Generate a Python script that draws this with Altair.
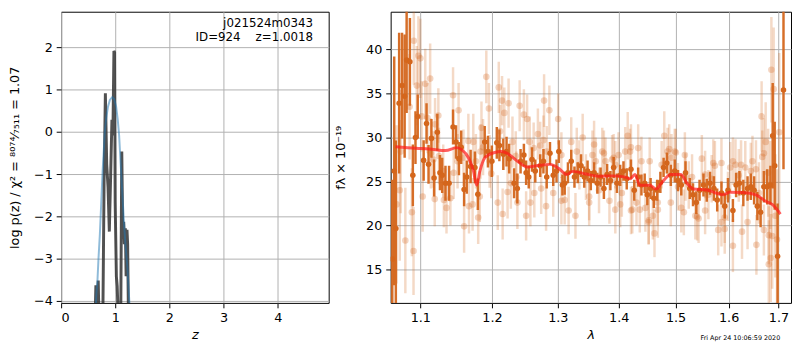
import altair as alt
import pandas as pd

# ---------------- left panel: p(z) ----------------
pz_z = [0.624, 0.642, 0.660, 0.685, 0.700, 0.770, 0.793, 0.817, 0.842, 0.866, 0.890, 0.914,
        0.938, 0.956, 0.975, 0.987, 0.998, 1.020, 1.035, 1.060, 1.100, 1.120, 1.138, 1.156,
        1.168, 1.186, 1.200, 1.216, 1.228, 1.245]
pz_logp = [-4.6, -3.63, -4.3, -3.52, -4.5, -4.5, -1.22, 0.92, -0.77, -1.30, -2.36, -1.06,
           0.29, -0.08, 1.92, 1.89, -1.67, -3.42, -3.65, -4.6, -4.6, -0.46, -2.43, -2.13,
           -2.66, -2.28, -3.42, -2.32, -2.65, -4.6]

fit_z = [0.630, 0.648, 0.672, 0.690, 0.715, 0.740, 0.765, 0.785, 0.806, 0.835, 0.866, 0.900,
         0.944, 0.980, 1.016, 1.045, 1.071, 1.100, 1.130, 1.162, 1.190, 1.223, 1.253, 1.280]
fit_logp = [-4.6, -3.9, -3.49, -3.0, -2.43, -1.7, -0.95, -0.5, 0.0, 0.35, 0.60, 0.76,
            0.825, 0.78, 0.60, 0.30, -0.08, -0.77, -1.45, -2.17, -2.70, -3.20, -3.87, -4.5]

label_field = "j021524m0343"
label_id = "ID=924\u00a0\u00a0\u00a0\u00a0z=1.0018"
date_text = "Fri Apr 24 10:06:59 2020"

# ---------------- right panel: spectrum ----------------
dark_lam = [1.0631, 1.0656, 1.0677, 1.0720, 1.0758, 1.0792, 1.0818, 1.0861, 1.0900, 1.0935, 1.0965,
            1.1044, 1.1083, 1.1110, 1.1149, 1.1185, 1.1229, 1.1265, 1.1296, 1.1341, 1.1391,
            1.1446, 1.1487, 1.1528, 1.1560, 1.1601, 1.1638, 1.1693, 1.1754, 1.1796, 1.1895,
            1.1942, 1.1999, 1.2071, 1.2109, 1.2167, 1.2215, 1.2254, 1.2327, 1.2376,
            1.2425, 1.2475, 1.2509, 1.2549, 1.2599, 1.2649, 1.2725, 1.2775, 1.2826, 1.2877,
            1.2928, 1.2980, 1.3016, 1.3073, 1.3109, 1.3161, 1.3214, 1.3266, 1.3319, 1.3372,
            1.3425, 1.3479, 1.3532, 1.3586, 1.3640, 1.3694, 1.3749, 1.3803, 1.3858, 1.3913,
            1.3969, 1.4024, 1.4080, 1.4136, 1.4209, 1.4266, 1.4334, 1.4391, 1.4448, 1.4494,
            1.4552, 1.4609, 1.4668, 1.4726, 1.4784, 1.4843, 1.4914, 1.4985, 1.5045, 1.5105,
            1.5183, 1.5262, 1.5322, 1.5383, 1.5444, 1.5518, 1.5580, 1.5642, 1.5716, 1.5779,
            1.5861, 1.5924, 1.5987, 1.6083, 1.6146, 1.6211, 1.6288, 1.6372, 1.6437, 1.6503,
            1.6568, 1.6634, 1.6700, 1.6767, 1.6833,
            1.6880, 1.6921, 1.6981, 1.7103]
dark_flux = [16.2, 26.2, 19.65, 33.9, 35.9, 34.7, 38.8, 38.6, 25.7, 30.0, 32.4,
             27.4, 31.6, 26.95, 29.9, 25.4, 30.6, 26.0, 25.7, 24.8, 24.8,
             31.2, 29.5, 27.6, 28.9, 24.1, 25.5, 26.7, 26.6, 23.55, 29.5,
             28.4, 27.3, 29.4, 29.1, 28.1, 28.4, 27.6, 24.8, 24.2,
             27.3, 28.0, 26.0, 25.5, 27.5, 26.2, 26.8, 27.3, 25.5, 28.2,
             25.7, 26.2, 28.4, 24.6, 24.8, 26.0, 27.3, 25.5, 26.0, 26.8,
             25.5, 26.2, 25.1, 26.0, 24.8, 25.5, 24.2, 25.8, 25.1, 26.6,
             24.8, 25.7, 26.2, 25.3, 26.4, 24.0, 25.5, 24.6, 24.8, 23.5,
             24.2, 23.1, 24.0, 24.9, 26.6, 27.1, 25.7, 26.2, 25.1, 24.6,
             26.0, 24.2, 23.5, 22.6, 24.0, 24.6, 24.0, 24.8, 24.2, 22.9,
             23.7, 22.2, 24.0, 21.7, 24.6, 24.8, 23.7, 24.2, 24.4, 24.0,
             22.2, 21.5, 24.4, 24.4, 24.6,
             30.2, 26.8, 16.5, 35.4]
dark_err = [9, 13, 10, 8, 6, 7, 6, 5, 3.5, 3, 2.5,
            2.3, 2.3, 2.2, 2.2, 2.1, 2.1, 2.0, 2.0, 2.0, 2.0, 2.0, 1.9, 1.9, 1.9, 1.9, 1.9, 1.9,
            1.8, 1.8, 1.8, 1.8, 1.8, 1.8, 1.8, 1.8, 1.7, 1.7, 1.7, 1.7,
            1.4, 1.3, 1.4, 1.3, 1.4, 1.3, 1.3, 1.4, 1.3, 1.3,
            1.2, 1.3, 1.3, 1.2, 1.3, 1.2, 1.3, 1.2, 1.2, 1.3,
            1.2, 1.2, 1.1, 1.2, 1.2, 1.1, 1.2, 1.2, 1.1, 1.2,
            1.1, 1.2, 1.1, 1.2, 1.1, 1.2, 1.1, 1.2, 1.1, 1.2,
            1.2, 1.1, 1.2, 1.2, 1.1, 1.2, 1.2, 1.3, 1.2, 1.2,
            1.3, 1.2, 1.3, 1.3, 1.2, 1.3, 1.3, 1.3, 1.4, 1.3,
            1.3, 1.4, 1.4, 1.3, 1.4, 1.4, 1.5, 1.4, 1.5, 1.6,
            1.6, 1.7, 1.8, 2.0, 2.2,
            6, 5, 6, 9]

light_lam = [1.0686, 1.0728, 1.0741, 1.0801, 1.0857, 1.0887, 1.0909, 1.0913, 1.0952, 1.0974,
             1.1000, 1.1017, 1.1031, 1.1066, 1.1096, 1.1132, 1.1141, 1.1176, 1.1194, 1.1198,
             1.1243, 1.1252, 1.1310, 1.1319, 1.1355, 1.1409, 1.1446, 1.1455, 1.1509, 1.1523,
             1.1592, 1.1601, 1.1661, 1.1670, 1.1721, 1.1731, 1.1768, 1.1801, 1.1824, 1.1834,
             1.1848, 1.1871, 1.1918, 1.1956, 1.1966, 1.1990, 1.2085, 1.2100, 1.2119, 1.2148,
             1.2157, 1.2182, 1.2230, 1.2245, 1.2279, 1.2303, 1.2352, 1.2362, 1.2377, 1.2411,
             1.2475, 1.2524, 1.2564, 1.2574, 1.2624, 1.2634, 1.2689, 1.2725, 1.2740, 1.2785,
             1.2816, 1.2826, 1.2867, 1.2928, 1.3006, 1.3057, 1.3109, 1.3172, 1.3214, 1.3282,
             1.3303, 1.3345, 1.3399, 1.3452, 1.3505, 1.3559, 1.3613, 1.3668, 1.3722, 1.3776,
             1.3842, 1.3887, 1.3941, 1.3996, 1.4052, 1.4110, 1.4153, 1.4194, 1.4232, 1.4305,
             1.4334, 1.4391, 1.4460, 1.4517, 1.4592, 1.4621, 1.4679, 1.4749, 1.4796, 1.4855,
             1.4926, 1.4985, 1.5045, 1.5105, 1.5183, 1.5243, 1.5304, 1.5365, 1.5426, 1.5487,
             1.5549, 1.5611, 1.5673, 1.5735, 1.5798, 1.5861, 1.5924, 1.5987, 1.6031, 1.6083,
             1.6134, 1.6198, 1.6262, 1.6327, 1.6372, 1.6437, 1.6540, 1.6549, 1.6601, 1.6654,
             1.6700, 1.6737, 1.6787, 1.6800, 1.6833, 1.6840, 1.6853, 1.6870, 1.6900, 1.6934,
             1.6968, 1.7015,
             1.2775, 1.3586, 1.3749, 1.3913, 1.4209, 1.4536, 1.2509, 1.3057, 1.3505, 1.3941,
             1.4024, 1.4209, 1.4362, 1.4519, 1.4885, 1.5005, 1.5171, 1.5704, 1.5861, 1.6083,
             1.6243, 1.6470, 1.6667, 1.4681, 1.4914, 1.5152, 1.5399, 1.5549, 1.5924, 1.6700,
             1.6800]
light_flux = [22.4, 24.0, 28.4, 18.3, 33.5, 21.5, 17.1, 41.0, 35.9, 39.3,
              39.0, 32.4, 23.3, 36.1, 32.2, 36.7, 28.2, 27.5, 23.0, 31.5,
              32.5, 27.9, 26.2, 22.9, 22.0, 23.1, 34.8, 26.0, 27.3, 33.1,
              27.7, 19.9, 29.6, 22.2, 22.4, 29.5, 27.3, 20.9, 23.3, 28.4,
              31.1, 28.9, 36.9, 33.3, 27.3, 25.9, 22.6, 35.7, 30.7, 34.2,
              21.3, 32.8, 23.8, 33.9, 24.8, 29.5, 27.9, 25.5, 22.6, 33.6,
              32.6, 32.1, 29.5, 22.6, 28.8, 23.7, 30.4, 29.1, 24.2, 34.2,
              22.2, 28.4, 33.1, 23.7, 32.1, 28.0, 22.9, 21.7, 29.5, 21.1,
              28.4, 26.9, 30.0, 25.5, 23.3, 28.0, 27.3, 24.0, 28.4, 27.3,
              22.8, 27.5, 26.9, 28.0, 23.7, 28.4, 30.2, 28.4, 21.8, 22.6,
              28.8, 27.3, 22.0, 20.4, 21.1, 19.1, 22.6, 26.9, 30.2, 28.4,
              27.7, 28.4, 24.4, 22.0, 25.5, 24.6, 25.5, 21.1, 20.8, 27.6,
              25.8, 23.5, 25.3, 26.8, 19.5, 20.4, 20.9, 23.3, 26.6, 17.7,
              26.9, 25.7, 19.3, 26.6, 20.4, 26.2, 26.4, 17.8, 23.7, 32.4,
              28.2, 29.5, 26.0, 15.6, 24.6, 16.3, 37.7, 18.8, 35.5, 21.1,
              18.4, 30.6,
              29.7, 29.2, 28.2, 27.7, 28.9, 27.3, 21.1, 22.8, 22.6, 21.8,
              22.4, 21.7, 21.8, 20.6, 28.7, 28.3, 28.0, 27.1, 27.1, 27.3,
              26.9, 27.3, 27.8, 21.8, 22.6, 21.5, 21.0, 21.7, 19.6, 19.5,
              18.9]
light_err = [9, 8, 7, 6, 6, 5, 5, 5, 4.5, 4.5, 4.5, 4, 4, 4, 4, 4, 4,
             3.2, 3.1, 3.0, 3.1, 3.2, 3.0, 3.1, 2.9, 3.1, 3.2,
             3.0, 3.1, 3.1, 3.2, 3.0, 3.1, 3.1, 3.0, 3.2, 3.1,
             3.0, 2.9, 3.1, 3.0, 3.2, 3.0, 2.9, 3.0, 2.8, 3.1,
             2.9, 3.0, 2.8, 2.9, 2.9, 3.0, 2.8, 2.9, 2.9, 2.8,
             2.9, 3.0, 2.9, 2.9, 2.8, 2.9, 2.7, 2.9, 2.8, 2.9,
             2.7, 2.9, 3.0, 2.8, 2.9, 2.8, 2.7, 2.9, 2.6, 2.8,
             2.7, 2.8, 2.6, 2.7, 2.8, 2.7, 2.6, 2.7, 2.8, 2.7,
             2.6, 2.7, 2.7, 2.6, 2.8, 2.7, 2.6, 2.7, 2.8, 2.7,
             2.6, 2.7, 2.6, 2.7, 2.8, 2.7, 2.6, 2.7, 2.7, 2.6,
             2.7, 2.8, 2.7, 2.7, 2.6, 2.7, 2.8, 2.7, 2.7, 2.6,
             2.7, 2.8, 2.7, 2.7, 2.8, 2.7, 2.8, 2.9, 2.8, 2.9,
             2.8, 2.9, 3.0, 2.9, 3.0, 3.1, 3.0, 3.1, 3.2, 3.3,
             3.4, 3.5,
             4, 4, 4.5, 5, 5, 5, 5, 6, 6, 7, 7, 8, 9,
             2.8, 2.7, 2.6, 2.7, 2.6, 2.7, 2.8, 2.7, 2.6, 2.7,
             2.6, 2.7, 2.6, 2.7, 2.8, 2.7, 2.6, 2.7, 2.8, 2.7,
             2.8, 2.9, 3.0, 3.2, 2.7, 2.6, 2.7, 2.7, 2.8, 2.9,
             3.3]

model_lam = [1.0673, 1.0943, 1.1118, 1.1342, 1.1500, 1.1570, 1.1663, 1.1733, 1.1779, 1.1826,
             1.1897, 1.2039, 1.2135, 1.2256, 1.2379, 1.2525, 1.2725, 1.2877, 1.3031, 1.3135,
             1.3240, 1.3452, 1.3668, 1.3887, 1.4110, 1.4194, 1.4279, 1.4364, 1.4536, 1.4652,
             1.4739, 1.4916, 1.5096, 1.5216, 1.5337, 1.5583, 1.5770, 1.5896, 1.6023, 1.6279,
             1.6540, 1.6737, 1.6870, 1.7039]
model_flux = [28.95, 28.78, 28.70, 28.52, 28.85, 28.60, 27.70, 26.20, 24.58, 26.20,
              27.70, 28.30, 28.40, 28.05, 27.30, 26.65, 26.85, 26.95, 26.40, 25.80,
              26.15, 25.86, 25.60, 25.64, 25.50, 25.30, 25.80, 24.58, 24.58, 24.14,
              24.77, 25.80, 25.80, 24.77, 24.14, 24.03, 23.67, 23.49, 23.78, 23.75,
              23.49, 22.76, 22.39, 21.30]

FONT = "DejaVu Sans"
W1, W2, H = 272, 407, 296
ORANGE = "#d4661c"

# ---------------- build left ----------------
pz_df = pd.DataFrame({"z": pz_z, "logp": pz_logp, "i": range(len(pz_z))})
fit_df = pd.DataFrame({"z": fit_z, "logp": fit_logp, "i": range(len(fit_z))})

xz = alt.X("z:Q", scale=alt.Scale(domain=[0, 4.94], nice=False, zero=False),
           axis=alt.Axis(values=[0, 1, 2, 3, 4], title="z", titleFontStyle="italic"))
ylp = alt.Y("logp:Q", scale=alt.Scale(domain=[-4.05, 2.85], nice=False, zero=False),
            axis=alt.Axis(values=[-4, -3, -2, -1, 0, 1, 2],
                          title="log p(z) / χ² = ⁸⁰⁷⁴⁄₇₅₁₁ = 1.07", titlePadding=12))

pz_line = alt.Chart(pz_df).mark_line(color="#333333", strokeWidth=3, opacity=0.85, clip=True).encode(
    x=xz, y=ylp, order="i:Q")
fit_line = alt.Chart(fit_df).mark_line(color="#1f77b4", strokeWidth=2, opacity=0.5, clip=True).encode(
    x=xz, y=ylp, order="i:Q")
t1 = alt.Chart(pd.DataFrame({"t": [label_field]})).mark_text(
    align="right", baseline="middle", fontSize=12, font=FONT, color="black").encode(
    x=alt.value(W1 - 16), y=alt.value(12), text="t:N")
t2 = alt.Chart(pd.DataFrame({"t": [label_id]})).mark_text(
    align="right", baseline="middle", fontSize=12, font=FONT, color="black").encode(
    x=alt.value(W1 - 16), y=alt.value(26), text="t:N")

left = alt.layer(pz_line, fit_line, t1, t2).properties(width=W1, height=H)

# ---------------- build right ----------------
dark_df = pd.DataFrame({"lam": dark_lam, "flux": dark_flux, "err": dark_err})
dark_df["lo"] = dark_df["flux"] - dark_df["err"]
dark_df["hi"] = dark_df["flux"] + dark_df["err"]
light_df = pd.DataFrame({"lam": light_lam, "flux": light_flux, "err": light_err})
light_df["lo"] = light_df["flux"] - light_df["err"]
light_df["hi"] = light_df["flux"] + light_df["err"]
model_df = pd.DataFrame({"lam": model_lam, "flux": model_flux})

lam_scale = alt.Scale(type="log", domain=[1.061, 1.726], nice=False, zero=False)
flux_scale = alt.Scale(domain=[11.2, 44.3], nice=False, zero=False)
xl = alt.X("lam:Q", scale=lam_scale,
           axis=alt.Axis(values=[1.1, 1.2, 1.3, 1.4, 1.5, 1.6, 1.7], format=".1f",
                         title="λ", titleFontStyle="italic"))
yaxis = alt.Axis(values=[15, 20, 25, 30, 35, 40], title="fλ × 10⁻¹⁹", titlePadding=18)
yf = alt.Y("flux:Q", scale=flux_scale, axis=yaxis)
ylo = alt.Y("lo:Q", scale=flux_scale, axis=yaxis)

light_bars = alt.Chart(light_df).mark_rule(color=ORANGE, strokeWidth=2.5, opacity=0.25, clip=True).encode(
    x=xl, y=ylo, y2="hi:Q")
light_pts = alt.Chart(light_df).mark_circle(color=ORANGE, size=45, opacity=0.28, clip=True).encode(
    x=xl, y=yf)
dark_bars = alt.Chart(dark_df).mark_rule(color=ORANGE, strokeWidth=2.5, opacity=0.95, clip=True).encode(
    x=xl, y=ylo, y2="hi:Q")
dark_pts = alt.Chart(dark_df).mark_circle(color=ORANGE, size=32, opacity=1, clip=True).encode(
    x=xl, y=yf)
model_line = alt.Chart(model_df).mark_line(color="#ff1a1a", strokeWidth=3, opacity=0.7, clip=True,
                                           interpolate="monotone").encode(x=xl, y=yf)
date_mark = alt.Chart(pd.DataFrame({"t": [date_text]})).mark_text(
    align="right", baseline="middle", fontSize=6.5, font=FONT, color="black").encode(
    x=alt.value(W2 - 11), y=alt.value(H + 36), text="t:N")

right = alt.layer(light_bars, light_pts, dark_bars, dark_pts, model_line, date_mark).properties(
    width=W2, height=H)

chart = alt.hconcat(left, right, spacing=4).properties(
    padding={"left": 0, "top": 0, "right": 0, "bottom": 0}
).configure_axis(
    labelFont=FONT, titleFont=FONT, labelFontSize=13, titleFontSize=13,
    titleFontWeight="normal", labelColor="black", titleColor="black",
    tickColor="black", tickSize=5, labelPadding=4, domain=False,
    gridColor="#b0b0b0", gridWidth=1, grid=True
).configure_view(stroke="black", strokeWidth=1)

chart.save("out.html", embed_options={"renderer": "svg", "actions": False})
